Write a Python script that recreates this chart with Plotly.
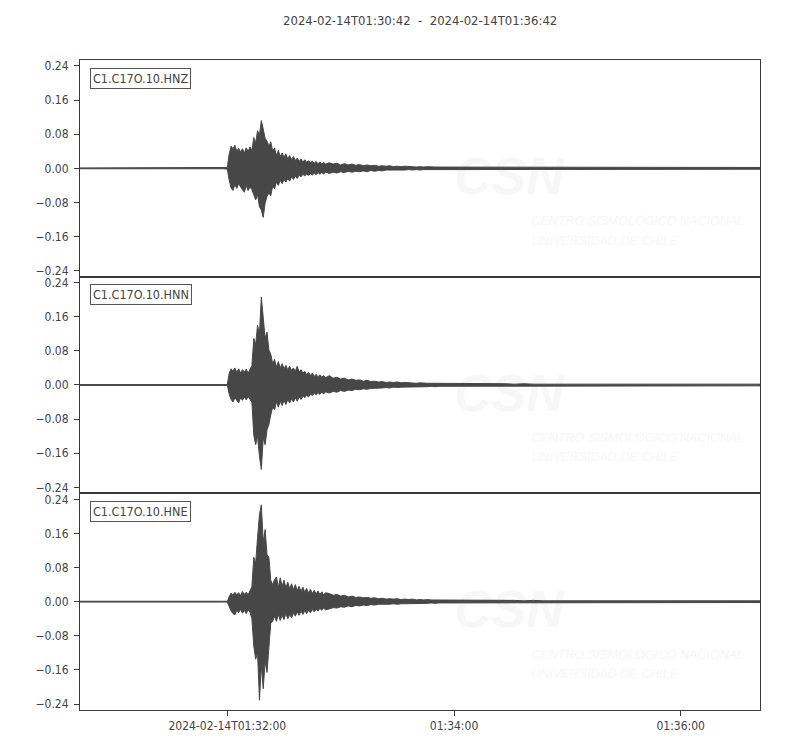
import pandas as pd
import plotly.graph_objects as go
from plotly.subplots import make_subplots

# ---------------- data ----------------
START = "2024-02-14 01:30:42"
END = "2024-02-14 01:36:42"
TITLE = "2024-02-14T01:30:42  -  2024-02-14T01:36:42"
CHANNELS = ["C1.C17O.10.HNZ", "C1.C17O.10.HNN", "C1.C17O.10.HNE"]

# seconds after START at which the envelope was read
T = [0, 10, 20, 26, 32, 40, 48, 56, 64, 70, 76, 78,
     79, 80, 81, 82, 83, 84, 85, 86, 87, 88, 89, 90, 91, 92, 93, 94, 95, 96, 97, 98, 99, 100,
     101, 102, 103, 104, 105, 106, 107, 108, 109, 110, 111, 112, 113, 114, 115, 116, 117, 118,
     119, 120, 121, 122, 123, 124, 125, 126, 127, 128, 129, 130,
     132, 134, 136, 138, 140, 142, 144, 146, 148, 150, 152, 154, 156, 158, 160, 162, 164, 166,
     168, 170, 172, 174, 176, 178, 180, 182, 184, 186, 188, 190, 192, 194, 196, 198, 200,
     205, 210, 215, 220, 225, 230, 235, 240, 245, 250, 255, 260, 265, 270, 275, 280, 285, 290,
     295, 300, 305, 310, 315, 320, 325, 330, 335, 340, 345, 350, 355, 360]

HNZ_UP = [0.001, 0.001, 0.001, 0.002, 0.002, 0.001, 0.002, 0.002, 0.001, 0.001, 0.001, 0.002,
          0.034, 0.052, 0.046, 0.054, 0.040, 0.047, 0.038, 0.046, 0.036, 0.048, 0.040, 0.050, 0.042,
          0.072, 0.060, 0.088, 0.078, 0.112, 0.092, 0.070, 0.064, 0.052,
          0.062, 0.040, 0.048, 0.030, 0.042, 0.028, 0.036, 0.026, 0.034, 0.022, 0.030, 0.020, 0.028,
          0.018, 0.024, 0.016, 0.022, 0.015, 0.020, 0.014, 0.018, 0.013, 0.017, 0.012, 0.016, 0.011,
          0.015, 0.010, 0.014, 0.010,
          0.013, 0.010, 0.012, 0.008, 0.011, 0.008, 0.010, 0.007, 0.009, 0.006, 0.008, 0.006, 0.007,
          0.005, 0.006, 0.005, 0.006, 0.004, 0.005, 0.004, 0.005, 0.004, 0.004, 0.003, 0.004, 0.003,
          0.004, 0.003, 0.003, 0.003, 0.003, 0.002, 0.003, 0.003, 0.002,
          0.002, 0.003, 0.002, 0.002, 0.002, 0.002, 0.002, 0.002, 0.002, 0.002, 0.002, 0.002, 0.002,
          0.002, 0.002, 0.002, 0.002, 0.002, 0.002, 0.002, 0.002, 0.002, 0.002, 0.002, 0.002, 0.002,
          0.002, 0.002, 0.002, 0.002, 0.002, 0.002]
HNZ_LO = [-0.001, -0.001, -0.001, -0.002, -0.002, -0.001, -0.002, -0.002, -0.001, -0.001, -0.001, -0.002,
          -0.028, -0.046, -0.052, -0.038, -0.047, -0.036, -0.044, -0.050, -0.056, -0.040, -0.052, -0.044, -0.050,
          -0.060, -0.074, -0.062, -0.090, -0.098, -0.115, -0.082, -0.066, -0.058,
          -0.064, -0.042, -0.048, -0.032, -0.040, -0.028, -0.036, -0.026, -0.032, -0.024, -0.030, -0.020, -0.026,
          -0.018, -0.024, -0.016, -0.020, -0.014, -0.018, -0.013, -0.017, -0.012, -0.016, -0.011, -0.015, -0.010,
          -0.014, -0.010, -0.013, -0.009,
          -0.012, -0.009, -0.011, -0.008, -0.010, -0.007, -0.009, -0.007, -0.008, -0.006, -0.008, -0.005, -0.007,
          -0.005, -0.006, -0.004, -0.005, -0.004, -0.005, -0.004, -0.004, -0.003, -0.004, -0.003, -0.004, -0.003,
          -0.003, -0.003, -0.003, -0.002, -0.003, -0.003, -0.002, -0.003, -0.002,
          -0.002, -0.002, -0.002, -0.002, -0.002, -0.002, -0.002, -0.002, -0.002, -0.002, -0.002, -0.002, -0.002,
          -0.002, -0.002, -0.002, -0.002, -0.002, -0.002, -0.002, -0.002, -0.002, -0.002, -0.002, -0.002, -0.002,
          -0.002, -0.002, -0.002, -0.002, -0.002, -0.002]

HNN_UP = [0.001, 0.001, 0.001, 0.001, 0.001, 0.002, 0.002, 0.001, 0.001, 0.001, 0.001, 0.001,
          0.028, 0.038, 0.032, 0.040, 0.030, 0.038, 0.028, 0.036, 0.030, 0.037, 0.028, 0.035, 0.045,
          0.109, 0.095, 0.140, 0.120, 0.206, 0.148, 0.110, 0.124, 0.082,
          0.072, 0.050, 0.060, 0.042, 0.055, 0.040, 0.050, 0.038, 0.046, 0.036, 0.044, 0.034, 0.040,
          0.032, 0.044, 0.030, 0.036, 0.028, 0.032, 0.024, 0.030, 0.022, 0.028, 0.020, 0.025, 0.019,
          0.024, 0.018, 0.022, 0.017,
          0.022, 0.016, 0.018, 0.014, 0.016, 0.012, 0.014, 0.011, 0.012, 0.009, 0.011, 0.008, 0.009,
          0.007, 0.008, 0.006, 0.007, 0.006, 0.007, 0.005, 0.006, 0.005, 0.005, 0.004, 0.005, 0.004,
          0.004, 0.004, 0.004, 0.003, 0.004, 0.003, 0.003, 0.003, 0.003,
          0.003, 0.003, 0.003, 0.003, 0.003, 0.002, 0.003, 0.002, 0.002, 0.002, 0.002, 0.002, 0.002,
          0.002, 0.002, 0.002, 0.002, 0.002, 0.002, 0.002, 0.002, 0.002, 0.002, 0.002, 0.002, 0.002,
          0.002, 0.002, 0.002, 0.002, 0.002, 0.002]
HNN_LO = [-0.001, -0.001, -0.001, -0.001, -0.001, -0.002, -0.002, -0.001, -0.001, -0.001, -0.001, -0.001,
          -0.022, -0.034, -0.040, -0.030, -0.037, -0.042, -0.030, -0.036, -0.028, -0.035, -0.027, -0.032, -0.040,
          -0.117, -0.140, -0.120, -0.167, -0.198, -0.124, -0.140, -0.105, -0.093,
          -0.070, -0.052, -0.058, -0.040, -0.052, -0.038, -0.048, -0.036, -0.046, -0.034, -0.042, -0.032, -0.040,
          -0.030, -0.038, -0.028, -0.034, -0.026, -0.030, -0.024, -0.028, -0.021, -0.025, -0.019, -0.023, -0.018,
          -0.022, -0.017, -0.021, -0.016,
          -0.019, -0.015, -0.017, -0.013, -0.015, -0.012, -0.013, -0.010, -0.011, -0.009, -0.010, -0.008, -0.008,
          -0.007, -0.007, -0.006, -0.007, -0.005, -0.006, -0.005, -0.005, -0.004, -0.005, -0.004, -0.004, -0.004,
          -0.004, -0.003, -0.004, -0.003, -0.003, -0.003, -0.003, -0.003, -0.003,
          -0.003, -0.003, -0.003, -0.003, -0.002, -0.003, -0.002, -0.002, -0.002, -0.002, -0.002, -0.002, -0.002,
          -0.002, -0.002, -0.002, -0.002, -0.002, -0.002, -0.002, -0.002, -0.002, -0.002, -0.002, -0.002, -0.002,
          -0.002, -0.002, -0.002, -0.002, -0.002, -0.002]

HNE_UP = [0.001, 0.001, 0.001, 0.001, 0.001, 0.002, 0.002, 0.002, 0.001, 0.001, 0.001, 0.001,
          0.012, 0.020, 0.015, 0.022, 0.016, 0.021, 0.014, 0.024, 0.017, 0.022, 0.016, 0.026, 0.035,
          0.104, 0.090, 0.150, 0.204, 0.227, 0.140, 0.169, 0.110, 0.104,
          0.050, 0.040, 0.052, 0.058, 0.034, 0.056, 0.036, 0.050, 0.032, 0.046, 0.030, 0.042, 0.028,
          0.040, 0.026, 0.036, 0.024, 0.034, 0.022, 0.031, 0.020, 0.029, 0.019, 0.027, 0.018, 0.025,
          0.017, 0.023, 0.016, 0.021,
          0.019, 0.015, 0.017, 0.013, 0.015, 0.011, 0.013, 0.010, 0.011, 0.009, 0.010, 0.008, 0.009,
          0.007, 0.008, 0.006, 0.007, 0.006, 0.007, 0.005, 0.006, 0.005, 0.006, 0.004, 0.005, 0.004,
          0.005, 0.004, 0.004, 0.003, 0.004, 0.003, 0.004, 0.003, 0.003,
          0.003, 0.003, 0.003, 0.003, 0.003, 0.003, 0.002, 0.003, 0.002, 0.002, 0.002, 0.002, 0.002,
          0.002, 0.002, 0.002, 0.002, 0.002, 0.002, 0.002, 0.002, 0.002, 0.002, 0.002, 0.002, 0.002,
          0.002, 0.002, 0.002, 0.002, 0.002, 0.002]
HNE_LO = [-0.001, -0.001, -0.001, -0.001, -0.001, -0.002, -0.002, -0.002, -0.001, -0.001, -0.001, -0.001,
          -0.010, -0.022, -0.028, -0.031, -0.020, -0.026, -0.018, -0.027, -0.020, -0.028, -0.019, -0.025, -0.040,
          -0.104, -0.135, -0.120, -0.231, -0.150, -0.204, -0.140, -0.166, -0.112,
          -0.050, -0.046, -0.034, -0.046, -0.030, -0.044, -0.032, -0.042, -0.028, -0.040, -0.030, -0.038, -0.026,
          -0.034, -0.024, -0.032, -0.022, -0.030, -0.021, -0.028, -0.020, -0.026, -0.018, -0.024, -0.017, -0.022,
          -0.016, -0.020, -0.015, -0.019,
          -0.017, -0.014, -0.015, -0.012, -0.013, -0.010, -0.012, -0.009, -0.010, -0.008, -0.009, -0.007, -0.008,
          -0.006, -0.007, -0.006, -0.006, -0.005, -0.006, -0.005, -0.005, -0.004, -0.005, -0.004, -0.004, -0.004,
          -0.004, -0.003, -0.004, -0.003, -0.003, -0.003, -0.003, -0.003, -0.003,
          -0.003, -0.003, -0.003, -0.003, -0.002, -0.003, -0.002, -0.002, -0.002, -0.002, -0.002, -0.002, -0.002,
          -0.002, -0.002, -0.002, -0.002, -0.002, -0.002, -0.002, -0.002, -0.002, -0.002, -0.002, -0.002, -0.002,
          -0.002, -0.002, -0.002, -0.002, -0.002, -0.002]

Y_TICKS = [-0.24, -0.16, -0.08, 0.0, 0.08, 0.16, 0.24]
Y_TICKTEXT = ["\u22120.24", "\u22120.16", "\u22120.08", "0.00", "0.08", "0.16", "0.24"]
X_TICKS = ["2024-02-14 01:32:00", "2024-02-14 01:34:00", "2024-02-14 01:36:00"]
X_TICKTEXT = ["2024-02-14T01:32:00", "01:34:00", "01:36:00"]
Y_RANGE = [-0.254, 0.254]

WM_BIG = "CSN"
WM_LINE1 = "CENTRO SISMOLÓGICO NACIONAL"
WM_LINE2 = "UNIVERSIDAD DE CHILE"

# ---------------- figure ----------------
FONT = "DejaVu Sans Condensed, DejaVu Sans, sans-serif"
TRACE_COLOR = "#474747"
AXIS_COLOR = "#3a3a3a"
TEXT_COLOR = "#444444"
WM_COLOR = "#f7f7f7"

t0 = pd.Timestamp(START)
times = [t0 + pd.Timedelta(seconds=s) for s in T]

fig = make_subplots(rows=3, cols=1, shared_xaxes=True, vertical_spacing=0)

series = [(HNZ_UP, HNZ_LO), (HNN_UP, HNN_LO), (HNE_UP, HNE_LO)]
for i, (up, lo) in enumerate(series, start=1):
    # faint watermark (drawn first, below the waveform)
    fig.add_trace(go.Scatter(
        x=[t0 + pd.Timedelta(seconds=198)], y=[-0.03], mode="text",
        text=["<b><i>" + WM_BIG + "</i></b>"], textposition="middle right",
        textfont=dict(family="Liberation Sans", size=52, color=WM_COLOR),
        hoverinfo="skip", showlegend=False), row=i, col=1)
    fig.add_trace(go.Scatter(
        x=[t0 + pd.Timedelta(seconds=239)] * 2, y=[-0.126, -0.172], mode="text",
        text=["<i>" + WM_LINE1 + "</i>", "<i>" + WM_LINE2 + "</i>"],
        textposition="middle right",
        textfont=dict(family="Liberation Sans", size=12.5, color=WM_COLOR),
        hoverinfo="skip", showlegend=False), row=i, col=1)
    # waveform envelope (upper edge forward, lower edge back)
    fig.add_trace(go.Scatter(
        x=times + times[::-1], y=list(up) + list(lo)[::-1],
        mode="lines", fill="toself", fillcolor=TRACE_COLOR,
        line=dict(color=TRACE_COLOR, width=1),
        hoverinfo="skip", showlegend=False), row=i, col=1)

    fig.update_yaxes(
        row=i, col=1, range=Y_RANGE, tickvals=Y_TICKS, ticktext=Y_TICKTEXT,
        showgrid=False, zeroline=False, showline=True, mirror=True,
        linecolor=AXIS_COLOR, linewidth=1, ticks="outside", ticklen=5,
        tickcolor=AXIS_COLOR, tickfont=dict(family=FONT, size=12, color=TEXT_COLOR),
        ticklabelstandoff=3)
    fig.update_xaxes(
        row=i, col=1, type="date", range=[START, END],
        tickvals=X_TICKS, ticktext=X_TICKTEXT,
        showgrid=False, zeroline=False, showline=True, mirror=True,
        linecolor=AXIS_COLOR, linewidth=1,
        ticks="outside" if i == 3 else "", ticklen=5, tickcolor=AXIS_COLOR,
        showticklabels=(i == 3),
        tickfont=dict(family=FONT, size=12, color=TEXT_COLOR))

    fig.add_annotation(
        xref="x domain" if i == 1 else f"x{i} domain",
        yref="y domain" if i == 1 else f"y{i} domain",
        x=0.014, y=0.965, xanchor="left", yanchor="top",
        text=CHANNELS[i - 1], showarrow=False,
        font=dict(family=FONT, size=12.5, color=TEXT_COLOR),
        bordercolor="#555555", borderwidth=1, borderpad=2, bgcolor="white")

fig.add_annotation(
    xref="paper", yref="paper", x=0.5, y=1.0615, xanchor="center", yanchor="middle",
    text=TITLE, showarrow=False, font=dict(family=FONT, size=13, color=TEXT_COLOR))

# the page adds an 8 px body margin, so the margins are shifted to keep the
# plot frame at x 80..760, y 60..710 in the window
fig.update_layout(
    width=800, height=750,
    margin=dict(l=72, r=48, t=52, b=48),
    paper_bgcolor="white", plot_bgcolor="white",
    showlegend=False)

fig.write_html("out.html")
